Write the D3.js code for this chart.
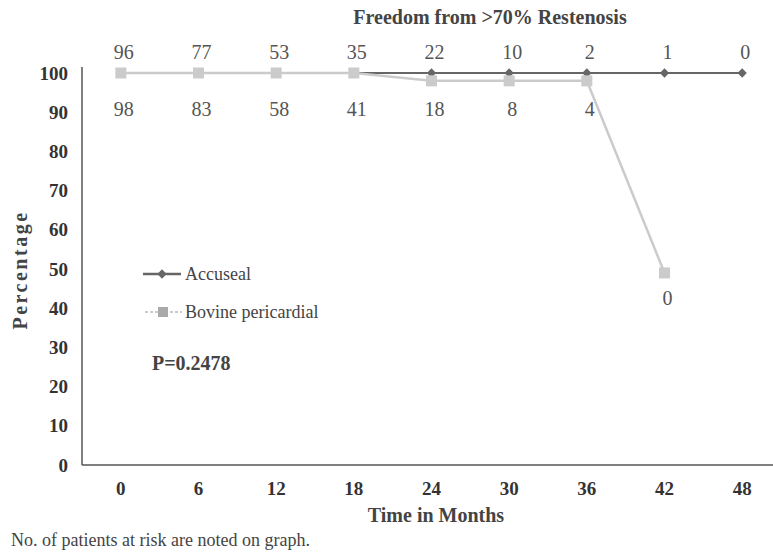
<!DOCTYPE html>
<html><head><meta charset="utf-8">
<script src="https://cdn.jsdelivr.net/npm/d3@7"></script>
<style>body{margin:0;background:#fff}</style>
</head><body>
<svg id="c" width="773" height="557"></svg>
<script>
const months = [0, 6, 12, 18, 24, 30, 36, 42, 48];
const accuseal = [100, 100, 100, 100, 100, 100, 100, 100, 100];
const bovine = [100, 100, 100, 100, 98, 98, 98, 49];
const atRiskAccuseal = [96, 77, 53, 35, 22, 10, 2, 1, 0];
const atRiskBovine = [98, 83, 58, 41, 18, 8, 4, 0];
const yTicks = [0, 10, 20, 30, 40, 50, 60, 70, 80, 90, 100];

(function () {
const svg = d3.select("#c");
const pL = 82, pR = 781, pT = 73, pB = 465;
const x = d3.scaleBand().domain(months).range([pL, pR]);
const xc = m => x(m) + x.bandwidth() / 2;
const y = d3.scaleLinear().domain([0, 100]).range([pB, pT]);
const serif = "'Liberation Serif','DejaVu Serif',serif";

// title
svg.append("text").attr("x", 490).attr("y", 24).attr("text-anchor", "middle")
  .attr("font-family", serif).attr("font-weight", "bold").attr("font-size", 20)
  .attr("fill", "#444").text("Freedom from >70% Restenosis");

// axes
const ya = svg.append("g").attr("transform", `translate(${pL},0)`)
  .call(d3.axisLeft(y).tickValues(yTicks).tickSize(0).tickPadding(14));
ya.select(".domain").attr("stroke", "#555").attr("stroke-width", 1.5).attr("d", `M0,${pT - 6}V${pB}`);
ya.selectAll("text").attr("font-family", serif).attr("font-weight", "bold")
  .attr("font-size", 19).attr("fill", "#333");

const xa = svg.append("g").attr("transform", `translate(0,${pB})`)
  .call(d3.axisBottom(x).tickSize(0).tickPadding(17));
xa.select(".domain").attr("stroke", "#555").attr("stroke-width", 1.5).attr("d", `M${pL},0H773`);
xa.selectAll("text").attr("font-family", serif).attr("font-weight", "bold")
  .attr("font-size", 19).attr("fill", "#333");

svg.append("text").attr("transform", "translate(27,270) rotate(-90)").attr("text-anchor", "middle")
  .attr("font-family", serif).attr("font-weight", "bold").attr("font-size", 20)
  .attr("letter-spacing", 2.5).attr("fill", "#444").text("Percentage");
svg.append("text").attr("x", 436).attr("y", 522).attr("text-anchor", "middle")
  .attr("font-family", serif).attr("font-weight", "bold").attr("font-size", 20)
  .attr("fill", "#444").text("Time in Months");
svg.append("text").attr("x", 11).attr("y", 546)
  .attr("font-family", serif).attr("font-size", 18)
  .attr("fill", "#444").text("No. of patients at risk  are noted on graph.");

const lineGen = d3.line().x((d, i) => xc(months[i])).y(d => y(d));
const accColor = "#666", bovColor = "#cbcbcb";

// Accuseal
svg.append("path").datum(accuseal).attr("d", lineGen).attr("fill", "none")
  .attr("stroke", accColor).attr("stroke-width", 2);
svg.selectAll(".acc").data(accuseal).join("path").attr("class", "acc")
  .attr("d", d3.symbol(d3.symbolDiamond2, 55)())
  .attr("transform", (d, i) => `translate(${xc(months[i])},${y(d)})`).attr("fill", accColor);

// Bovine
svg.append("path").datum(bovine).attr("d", lineGen).attr("fill", "none")
  .attr("stroke", bovColor).attr("stroke-width", 2.5);
svg.selectAll(".bov").data(bovine).join("rect").attr("class", "bov")
  .attr("x", (d, i) => xc(months[i]) - 5.5).attr("y", d => y(d) - 5.5)
  .attr("width", 11).attr("height", 11).attr("fill", bovColor);

// at-risk labels
svg.selectAll(".ra").data(atRiskAccuseal).join("text").attr("class", "ra")
  .attr("x", (d, i) => xc(months[i]) + 3).attr("y", 59).attr("text-anchor", "middle")
  .attr("font-family", serif).attr("font-size", 20).attr("fill", "#555").text(d => d);
svg.selectAll(".rb").data(atRiskBovine).join("text").attr("class", "rb")
  .attr("x", (d, i) => xc(months[i]) + 3).attr("y", (d, i) => i === 7 ? y(bovine[i]) + 32 : 116)
  .attr("text-anchor", "middle")
  .attr("font-family", serif).attr("font-size", 20).attr("fill", "#555").text(d => d);

// legend
const lg = svg.append("g");
lg.append("line").attr("x1", 143).attr("x2", 181).attr("y1", 274).attr("y2", 274)
  .attr("stroke", accColor).attr("stroke-width", 2.5);
lg.append("path").attr("d", d3.symbol(d3.symbolDiamond2, 55)())
  .attr("transform", "translate(162,274)").attr("fill", accColor);
lg.append("text").attr("x", 185).attr("y", 280).attr("font-family", serif)
  .attr("font-size", 18).attr("fill", "#444").text("Accuseal");
lg.append("line").attr("x1", 145).attr("x2", 182).attr("y1", 312).attr("y2", 312)
  .attr("stroke", "#999").attr("stroke-width", 1.2).attr("stroke-dasharray", "3,2");
lg.append("rect").attr("x", 158).attr("y", 307).attr("width", 10).attr("height", 10).attr("fill", "#aaa");
lg.append("text").attr("x", 185).attr("y", 318).attr("font-family", serif)
  .attr("font-size", 18).attr("fill", "#444").text("Bovine pericardial");
svg.append("text").attr("x", 152).attr("y", 370).attr("font-family", serif)
  .attr("font-weight", "bold").attr("font-size", 20).attr("fill", "#444").text("P=0.2478");
})();
</script>
</body></html>
